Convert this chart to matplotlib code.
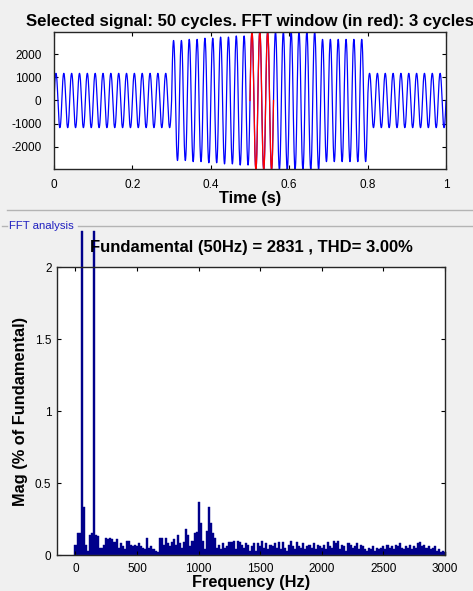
import numpy as np
import matplotlib
matplotlib.use('Agg')
import matplotlib.pyplot as plt
from matplotlib.ticker import FuncFormatter

plt.rcParams['font.family'] = ['Liberation Sans', 'DejaVu Sans']
plt.rcParams['axes.unicode_minus'] = False

# ---- data ----
f0 = 50.0
n_cycles = 50
# peak value of each cycle of the selected signal
cycle_amp = [1200] * 15 + \
            [2650, 2650, 2700, 2700, 2750, 2750, 2800, 2800, 2850, 2850] + \
            [3050] * 9 + \
            [2700] * 6 + \
            [1200] * 10
h3_ratio = 0.025          # 3rd harmonic relative to fundamental
win_start, win_cycles = 0.5, 3

# FFT magnitudes (% of fundamental), bins every 50/3 Hz from 0 to 3000 Hz
fft_mag = [
    0.07, 0.15, 0.15, 100.0, 0.33, 0.07, 0.03, 0.14, 0.15, 2.6,
    0.14, 0.13, 0.05, 0.05, 0.07, 0.12, 0.11, 0.12, 0.11, 0.09,
    0.11, 0.05, 0.08, 0.06, 0.04, 0.10, 0.10, 0.07, 0.06, 0.07,
    0.06, 0.08, 0.06, 0.05, 0.04, 0.12, 0.05, 0.06, 0.04, 0.03,
    0.02, 0.12, 0.12, 0.07, 0.12, 0.08, 0.06, 0.09, 0.11, 0.07,
    0.14, 0.08, 0.05, 0.09, 0.18, 0.14, 0.06, 0.10, 0.15, 0.16,
    0.37, 0.22, 0.10, 0.04, 0.17, 0.33, 0.22, 0.15, 0.12, 0.05,
    0.07, 0.04, 0.08, 0.05, 0.06, 0.09, 0.09, 0.10, 0.04, 0.10,
    0.09, 0.07, 0.05, 0.08, 0.07, 0.03, 0.06, 0.08, 0.03, 0.08,
    0.06, 0.10, 0.05, 0.08, 0.04, 0.07, 0.06, 0.08, 0.05, 0.09,
    0.04, 0.09, 0.05, 0.03, 0.07, 0.10, 0.06, 0.04, 0.09, 0.06,
    0.05, 0.08, 0.04, 0.06, 0.07, 0.05, 0.08, 0.04, 0.07, 0.06,
    0.05, 0.07, 0.04, 0.09, 0.06, 0.05, 0.10, 0.08, 0.10, 0.04,
    0.07, 0.06, 0.03, 0.08, 0.07, 0.05, 0.06, 0.08, 0.04, 0.07,
    0.06, 0.04, 0.03, 0.05, 0.04, 0.06, 0.03, 0.05, 0.04, 0.05,
    0.06, 0.04, 0.07, 0.05, 0.06, 0.04, 0.07, 0.06, 0.08, 0.05,
    0.04, 0.06, 0.05, 0.07, 0.04, 0.06, 0.05, 0.08, 0.09, 0.06,
    0.07, 0.05, 0.06, 0.04, 0.05, 0.06, 0.03, 0.04, 0.02, 0.03,
    0.02]
fund_value = 2831
thd = 3.00

# ---- build signal ----
fs = 6000
t = np.arange(0, n_cycles / f0 + 1 / fs, 1 / fs)
idx = np.minimum((t * f0).astype(int), n_cycles - 1)
amp = np.array(cycle_amp)[idx]
sig = amp * (np.sin(2 * np.pi * f0 * t) + h3_ratio * np.sin(3 * 2 * np.pi * f0 * t))
in_win = (t >= win_start) & (t <= win_start + win_cycles / f0)

bg = '#f0f0f0'
fig = plt.figure(figsize=(4.73, 5.91), dpi=100, facecolor=bg)

# top axes: signal
ax1 = fig.add_axes([54/473, 1-169/591, 392/473, 137/591])
ax1.plot(t, sig, color='#0000ff', linewidth=0.9)
ax1.plot(t[in_win], sig[in_win], color='#ff0000', linewidth=0.9)
ax1.set_xlim(0, 1)
ax1.set_ylim(-2950, 2950)
ax1.set_yticks([-2000, -1000, 0, 1000, 2000])
ax1.set_xticks([0, 0.2, 0.4, 0.6, 0.8, 1])
ax1.xaxis.set_major_formatter(FuncFormatter(lambda v, p: '%g' % v))
ax1.set_xlabel('Time (s)', fontsize=11.8, fontweight='bold', labelpad=0)
ax1.set_title('Selected signal: 50 cycles. FFT window (in red): 3 cycles',
              fontsize=12.1, fontweight='bold', pad=4)

# bottom axes: FFT
freq = np.arange(len(fft_mag)) * f0 / 3
ax2 = fig.add_axes([57/473, 1-555/591, 388/473, 288/591])
ax2.bar(freq, np.minimum(fft_mag, 2.25), width=f0 / 3,
        color='#00008b', edgecolor='#00008b', linewidth=0.3, clip_on=False)
ax2.axhline(0, color='#8080c0', linewidth=0.8)
ax2.set_xlim(-150, 3000)
ax2.set_ylim(0, 2)
ax2.set_xticks([0, 500, 1000, 1500, 2000, 2500, 3000])
ax2.set_yticks([0, 0.5, 1, 1.5, 2])
ax2.yaxis.set_major_formatter(FuncFormatter(lambda v, p: '%g' % v))
ax2.set_xlabel('Frequency (Hz)', fontsize=11.8, fontweight='bold', labelpad=0)
ax2.set_ylabel('Mag (% of Fundamental)', fontsize=11.8, fontweight='bold', labelpad=5)
ax2.set_title('Fundamental (50Hz) = %d , THD= %.2f%%' % (fund_value, thd),
              fontsize=12, fontweight='bold', pad=11)

for ax in (ax1, ax2):
    ax.set_facecolor('white')
    ax.tick_params(direction='in', length=3, top=True, right=True,
                   labelsize=8.5, width=0.8)
    for s in ax.spines.values():
        s.set_linewidth(1.0)
        s.set_color('#262626')
ax1.tick_params(axis='y', pad=9)
ax1.tick_params(axis='x', pad=7)
ax2.tick_params(axis='y', pad=4)
ax2.tick_params(axis='x', pad=6)

# panel separators
fig.add_artist(plt.Line2D([7/473, 1], [1-210/591, 1-210/591], color='#b4b4b4', linewidth=1))
fig.add_artist(plt.Line2D([78/473, 1], [1-226/591, 1-226/591], color='#b4b4b4', linewidth=1))
fig.add_artist(plt.Line2D([2/473, 7/473], [1-226/591, 1-226/591], color='#b4b4b4', linewidth=1))
fig.text(9/473, 1-226/591, 'FFT analysis', color='#2020c0', fontsize=8.2,
         va='center', ha='left')

fig.savefig('out.png', dpi=100, facecolor=bg)
